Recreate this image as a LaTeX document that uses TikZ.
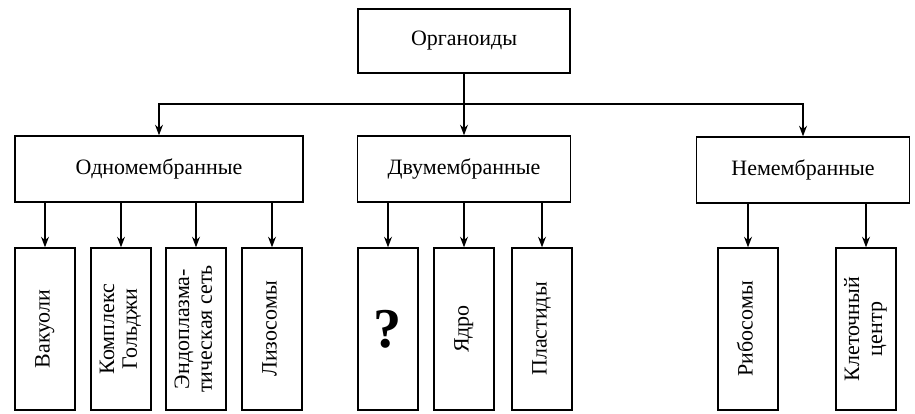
\documentclass[tikz,border=0pt]{standalone}
\usepackage{fontspec}
\usepackage{graphicx}
\setmainfont{Liberation Serif}
\usetikzlibrary{arrows.meta}
\newcommand{\uptext}[1]{\rotatebox{90}{\begin{tabular}{@{}c@{}}#1\end{tabular}}}
\begin{document}
\begin{tikzpicture}[x=0.02cm, y=-0.02cm,
  box/.style={rectangle, draw, line width=0.8pt, inner sep=2pt, font=\fontsize{12.5}{13}\selectfont},
  group/.style={box, minimum width=4.26cm, minimum height=1.32cm},
  leaf/.style={box, minimum width=1.2cm, minimum height=3.24cm},
  arr/.style={-{Stealth[length=6pt,width=4.5pt]}, line width=0.8pt}]
  \useasboundingbox (0,0) rectangle (915,413);
  \node[box, minimum width=4.24cm, minimum height=1.28cm] (org) at (464,41) {Органоиды};
  \node[box, minimum width=5.76cm, minimum height=1.32cm] (one) at (159,169) {Одномембранные};
  \node[group] (two) at (464,169) {Двумембранные};
  \node[group] (non) at (803,170) {Немембранные};
  \node[leaf] (vac) at (45,329) {\uptext{Вакуоли}};
  \node[leaf] (golgi) at (121,329) {\uptext{Комплекс\\Гольджи}};
  \node[leaf] (er) at (196,329) {\uptext{Эндоплазма-\\тическая сеть}};
  \node[leaf] (lys) at (272,329) {\uptext{Лизосомы}};
  \node[leaf] (quest) at (388,329) {\fontsize{32}{34}\selectfont\bfseries ?};
  \node[leaf] (core) at (464,329) {\uptext{Ядро}};
  \node[leaf] (plast) at (542,329) {\uptext{Пластиды}};
  \node[leaf] (ribo) at (748,329) {\uptext{Рибосомы}};
  \node[leaf] (centr) at (866,329) {\uptext{Клеточный\\центр}};
  \coordinate (bus) at (464,104);
  \draw[arr] (org.south) -- (two.north);
  \draw[arr] (bus) -| (one.north);
  \draw[arr] (bus) -| (non.north);
  \foreach \leafname in {vac, golgi, er, lys}
    \draw[arr] (one.south -| \leafname) -- (\leafname.north);
  \foreach \leafname in {quest, core, plast}
    \draw[arr] (two.south -| \leafname) -- (\leafname.north);
  \foreach \leafname in {ribo, centr}
    \draw[arr] (non.south -| \leafname) -- (\leafname.north);
\end{tikzpicture}
\end{document}
